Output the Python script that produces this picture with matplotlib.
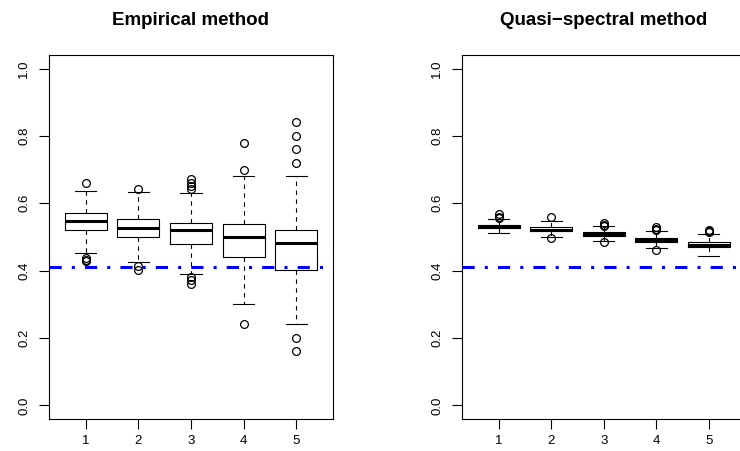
import matplotlib
matplotlib.use("Agg")
import matplotlib.pyplot as plt

plt.rcParams['font.family'] = ['Liberation Sans', 'DejaVu Sans']

groups = [1, 2, 3, 4, 5]
ref_level = 0.41

# Empirical method: box statistics
emp_q1 = [0.521, 0.501, 0.480, 0.441, 0.401]
emp_med = [0.546, 0.527, 0.520, 0.501, 0.481]
emp_q3 = [0.571, 0.553, 0.541, 0.540, 0.521]
emp_lo = [0.452, 0.427, 0.391, 0.301, 0.241]
emp_hi = [0.636, 0.634, 0.631, 0.680, 0.680]
emp_out = [[0.661, 0.438, 0.433, 0.428],
           [0.641, 0.413, 0.402],
           [0.671, 0.661, 0.651, 0.641, 0.382, 0.371, 0.361],
           [0.780, 0.700, 0.241],
           [0.840, 0.800, 0.761, 0.720, 0.201, 0.161]]

# Quasi-spectral method
qs_q1 = [0.527, 0.517, 0.502, 0.486, 0.470]
qs_med = [0.531, 0.521, 0.508, 0.490, 0.477]
qs_q3 = [0.536, 0.529, 0.515, 0.497, 0.485]
qs_lo = [0.511, 0.500, 0.487, 0.468, 0.443]
qs_hi = [0.552, 0.547, 0.532, 0.519, 0.510]
qs_out = [[0.567, 0.560, 0.555],
          [0.559, 0.497],
          [0.541, 0.537, 0.534, 0.485],
          [0.529, 0.525, 0.521, 0.460],
          [0.520, 0.517, 0.514]]

titles = ["Empirical method", "Quasi\u2212spectral method"]
yticks = [0.0, 0.2, 0.4, 0.6, 0.8, 1.0]


def make_stats(q1, med, q3, lo, hi, out):
    return [dict(q1=a, med=b, q3=c, whislo=d, whishi=e, fliers=f)
            for a, b, c, d, e, f in zip(q1, med, q3, lo, hi, out)]


def draw_panel(ax, stats, title):
    ax.bxp(stats, positions=groups, widths=0.8, showfliers=True,
           boxprops=dict(color="black", linewidth=0.8),
           medianprops=dict(color="black", linewidth=2.2, solid_capstyle="butt"),
           whiskerprops=dict(color="black", linewidth=0.8, linestyle=(0, (4, 4))),
           capprops=dict(color="black", linewidth=0.8),
           capwidths=0.4,
           flierprops=dict(marker="o", markerfacecolor="none", markeredgecolor="black",
                           markersize=5.6, markeredgewidth=0.9))
    ax.axhline(ref_level, color="#0000ff", linewidth=2.2,
               linestyle=(0, (4, 3.3, 1, 3.3)), zorder=5)
    ax.set_xlim(0.3, 5.7)
    ax.set_ylim(-0.04, 1.04)
    ax.set_xticks(groups)
    ax.set_xticklabels([str(g) for g in groups])
    ax.set_yticks(yticks)
    ax.set_yticklabels(["%.1f" % v for v in yticks])
    ax.tick_params(axis="both", length=7.5, width=0.8, labelsize=9.5,
                   color="black")
    ax.tick_params(axis="x", pad=4)
    ax.tick_params(axis="y", pad=6, labelrotation=90)
    for lab in ax.get_yticklabels():
        lab.set_va("center")
    for sp in ax.spines.values():
        sp.set_linewidth(0.8)
        sp.set_color("black")
    ax.set_title(title, fontsize=13.5, fontweight="bold", pad=21.5)


fig = plt.figure(figsize=(7.4, 4.51), dpi=100)
ax1 = fig.add_axes([0.0662, 0.071, 0.3838, 0.807])
ax2 = fig.add_axes([0.624, 0.071, 0.3838, 0.807])

draw_panel(ax1, make_stats(emp_q1, emp_med, emp_q3, emp_lo, emp_hi, emp_out), titles[0])
draw_panel(ax2, make_stats(qs_q1, qs_med, qs_q3, qs_lo, qs_hi, qs_out), titles[1])

fig.savefig("out.png", dpi=100)
